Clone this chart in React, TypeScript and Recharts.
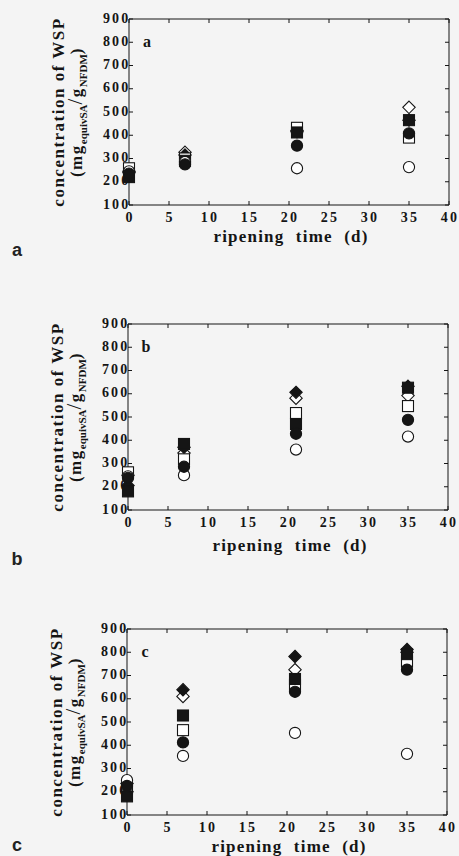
import React from "react";
import { ScatterChart, Scatter, XAxis, YAxis } from "recharts";

const days = [0, 7, 21, 35];
const xTicks = [0, 5, 10, 15, 20, 25, 30, 35, 40];
const yTicks = [100, 200, 300, 400, 500, 600, 700, 800, 900];

// panel a
const aOpenDiamond = [245, 327, 420, 520];
const aFilledDiamond = [240, 315, 415, 465];
const aOpenSquare = [258, 300, 432, 390];
const aFilledSquare = [220, 290, 412, 465];
const aOpenCircle = [245, 285, 258, 263];
const aFilledCircle = [235, 275, 355, 408];

// panel b
const bOpenDiamond = [250, 345, 581, 592];
const bFilledDiamond = [205, 370, 606, 632];
const bOpenSquare = [262, 318, 517, 547];
const bFilledSquare = [180, 384, 470, 626];
const bOpenCircle = [245, 250, 360, 416];
const bFilledCircle = [238, 286, 428, 488];

// panel c
const cOpenDiamond = [235, 610, 725, 800];
const cFilledDiamond = [200, 639, 782, 812];
const cOpenSquare = [215, 465, 660, 760];
const cFilledSquare = [180, 528, 685, 792];
const cOpenCircle = [250, 354, 453, 363];
const cFilledCircle = [225, 412, 630, 725];

const INK = "#151515";
const serif = "'Liberation Serif', 'Times New Roman', serif";

const markers = [
  { name: "open diamond", kind: "diamond", filled: false },
  { name: "filled diamond", kind: "diamond", filled: true },
  { name: "open square", kind: "square", filled: false },
  { name: "filled square", kind: "square", filled: true },
  { name: "open circle", kind: "circle", filled: false },
  { name: "filled circle", kind: "circle", filled: true },
];

const toPoints = (vals: number[]) => days.map((d, i) => ({ x: d, y: vals[i] }));

const panels = [
  {
    tag: "a",
    top: 0,
    left: 0,
    titleY: 236,
    letterY: 250,
    series: [aOpenDiamond, aFilledDiamond, aOpenSquare, aFilledSquare, aOpenCircle, aFilledCircle],
  },
  {
    tag: "b",
    top: 305,
    left: -1,
    titleY: 545,
    letterY: 559,
    series: [bOpenDiamond, bFilledDiamond, bOpenSquare, bFilledSquare, bOpenCircle, bFilledCircle],
  },
  {
    tag: "c",
    top: 610,
    left: -2,
    titleY: 846,
    letterY: 845,
    series: [cOpenDiamond, cFilledDiamond, cOpenSquare, cFilledSquare, cOpenCircle, cFilledCircle],
  },
];

function makeShape(kind: string, filled: boolean) {
  return (p: any) => {
    const { cx, cy } = p;
    const fill = filled ? INK : "#fff";
    const sw = 1.1;
    if (kind === "circle") return <circle cx={cx} cy={cy} r={5.6} fill={fill} stroke={INK} strokeWidth={sw} />;
    if (kind === "square")
      return <rect x={cx - 5.5} y={cy - 5.5} width={11} height={11} fill={fill} stroke={INK} strokeWidth={sw} />;
    const r = 6.2;
    return (
      <path
        d={`M${cx},${cy - r}L${cx + r},${cy}L${cx},${cy + r}L${cx - r},${cy}Z`}
        fill={fill}
        stroke={INK}
        strokeWidth={sw}
      />
    );
  };
}

const tickFont = { fontFamily: serif, fontWeight: 700, fontSize: 14, letterSpacing: 2.2, fill: INK };

function BottomTick(p: any) {
  return (
    <g>
      <line x1={p.x} y1={p.y} x2={p.x} y2={p.y - 4} stroke={INK} />
      <text x={p.x + 1} y={p.y + 16.5} textAnchor="middle" {...tickFont}>
        {p.payload.value}
      </text>
    </g>
  );
}

function TopTick(p: any) {
  return <line x1={p.x} y1={p.y} x2={p.x} y2={p.y + 4} stroke={INK} />;
}

function LeftTick(p: any) {
  return (
    <g>
      <line x1={p.x} y1={p.y} x2={p.x + 4} y2={p.y} stroke={INK} />
      <text x={p.x + 1.5} y={p.y + 3.5} textAnchor="end" {...tickFont}>
        {p.payload.value}
      </text>
    </g>
  );
}

function RightTick(p: any) {
  return <line x1={p.x} y1={p.y} x2={p.x - 4} y2={p.y} stroke={INK} />;
}

function Panel({ cfg }: { cfg: any }) {
  const plotMid = cfg.top + 19 + 93;
  return (
    <>
      <div style={{ position: "absolute", left: cfg.left, top: cfg.top }}>
        <ScatterChart width={459} height={260} margin={{ top: 18, right: 9, bottom: 25, left: 0 }}>
          <XAxis
            xAxisId="b"
            type="number"
            dataKey="x"
            domain={[0, 40]}
            ticks={xTicks}
            interval={0}
            height={30}
            tickSize={0}
            tickMargin={0}
            tickLine={false}
            axisLine={{ stroke: INK }}
            tick={(p: any) => <BottomTick {...p} />}
          />
          <XAxis
            xAxisId="t"
            orientation="top"
            type="number"
            dataKey="x"
            domain={[0, 40]}
            ticks={xTicks}
            interval={0}
            height={1}
            tickSize={0}
            tickMargin={0}
            tickLine={false}
            axisLine={{ stroke: INK }}
            tick={(p: any) => <TopTick {...p} />}
          />
          <YAxis
            yAxisId="l"
            type="number"
            dataKey="y"
            domain={[100, 900]}
            ticks={yTicks}
            interval={0}
            width={129}
            tickSize={0}
            tickMargin={0}
            tickLine={false}
            axisLine={{ stroke: INK }}
            tick={(p: any) => <LeftTick {...p} />}
          />
          <YAxis
            yAxisId="r"
            orientation="right"
            type="number"
            dataKey="y"
            domain={[100, 900]}
            ticks={yTicks}
            interval={0}
            width={1}
            tickSize={0}
            tickMargin={0}
            tickLine={false}
            axisLine={{ stroke: INK }}
            tick={(p: any) => <RightTick {...p} />}
          />
          {/* carrier for the frame axes on top and right, draws no marks */}
          <Scatter
            xAxisId="t"
            yAxisId="r"
            data={toPoints(cfg.series[0])}
            shape={() => <g />}
            isAnimationActive={false}
          />
          {markers.map((m, i) => (
            <Scatter
              key={m.name}
              name={m.name}
              xAxisId="b"
              yAxisId="l"
              data={toPoints(cfg.series[i])}
              shape={makeShape(m.kind, m.filled)}
              isAnimationActive={false}
            />
          ))}
        </ScatterChart>
      </div>
      {/* inner panel tag */}
      <div
        style={{
          position: "absolute",
          left: cfg.left + 147,
          top: cfg.top + 42,
          transform: "translate(-50%,-50%)",
          fontFamily: serif,
          fontWeight: 700,
          fontSize: 16,
          color: INK,
        }}
      >
        {cfg.tag}
      </div>
      {/* y axis title */}
      <div
        style={{
          position: "absolute",
          left: cfg.left + 71,
          top: plotMid,
          transform: "translate(-50%,-50%) rotate(-90deg)",
          fontFamily: serif,
          fontWeight: 700,
          fontSize: 17,
          letterSpacing: 1.5,
          lineHeight: "17px",
          whiteSpace: "nowrap",
          textAlign: "center",
          color: INK,
        }}
      >
        <div>concentration of WSP</div>
        <div>
          (mg<sub style={{ fontSize: 11, letterSpacing: 0 }}>equivSA</sub>
          <span style={{ fontSize: 21, fontWeight: 400 }}>/</span>g
          <sub style={{ fontSize: 11, letterSpacing: 0 }}>NFDM</sub>)
        </div>
      </div>
      {/* x axis title */}
      <div
        style={{
          position: "absolute",
          left: cfg.left + 291,
          top: cfg.titleY,
          transform: "translate(-50%,-50%)",
          fontFamily: serif,
          fontWeight: 700,
          fontSize: 17,
          lineHeight: "15px",
          letterSpacing: 1.2,
          wordSpacing: 6,
          whiteSpace: "nowrap",
          color: INK,
        }}
      >
        ripening time (d)
      </div>
      {/* figure panel letter */}
      <div
        style={{
          position: "absolute",
          left: 17,
          top: cfg.letterY,
          transform: "translate(-50%,-50%)",
          fontFamily: "'Liberation Sans', Arial, sans-serif",
          fontWeight: 700,
          fontSize: 18,
          color: "#222",
        }}
      >
        {cfg.tag}
      </div>
    </>
  );
}

export default function App() {
  return (
    <div
      style={{
        position: "absolute",
        left: 0,
        top: 0,
        width: 459,
        height: 856,
        background: "#f4f4f4",
        overflow: "hidden",
      }}
    >
      {panels.map((cfg) => (
        <Panel key={cfg.tag} cfg={cfg} />
      ))}
    </div>
  );
}
